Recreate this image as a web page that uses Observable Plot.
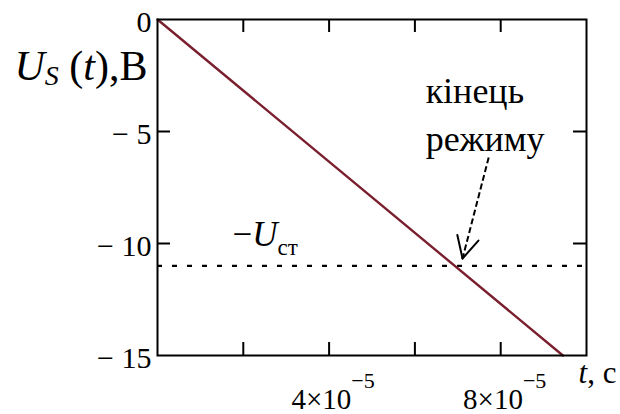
<!DOCTYPE html>
<html><head><meta charset="utf-8">
<script src="https://cdn.jsdelivr.net/npm/d3@7"></script>
<script src="https://cdn.jsdelivr.net/npm/@observablehq/plot@0.6"></script>
<style>
body{margin:0;background:#fff;overflow:hidden}
</style>
</head><body><div id="chart"></div>
<script>
// ---- data ----
const lineT = [0, 9.45e-5];
const lineU = [0, -15];
const uStop = -11;
const xDomain = [0, 1e-4];
const yDomain = [-15, 0];
const xTickValues = [2e-5, 4e-5, 6e-5, 8e-5];
const xTickLabelValues = [4e-5, 8e-5];
const xTickMantissa = ["4", "8"];
const xTickExponent = ["−5", "−5"];
const yTickValues = [0, -5, -10, -15];
const yTickLabels = ["0", "− 5", "− 10", "− 15"];
const yInnerTicks = [-5, -10];
const arrowFrom = [7.72e-5, -6.16];
const arrowTo = [7.11e-5, -10.67];
const noteText = "кінець\nрежиму";
const notePos = [6.25e-5, -5.85];
const stopLabelPos = [1.75e-5, -10.09];
const yLabel = "U_S (t),B";
const xLabel = "t, c";
const stopLabel = "−U_ст";

const FONT = "Liberation Serif";
const lineData = lineT.map((t, i) => ({t, u: lineU[i]}));

const W = 620, H = 414, mL = 157, mT = 19, mR = 34, mB = 59;
const fw = W - mL - mR, fh = H - mT - mB, tl = 13;

// arrow-head wings, computed in pixel space then mapped back to data space
const sx = d3.scaleLinear(xDomain, [mL, W - mR]);
const sy = d3.scaleLinear(yDomain, [H - mB, mT]);
const tipPx = [sx(arrowTo[0]), sy(arrowTo[1])];
const fromPx = [sx(arrowFrom[0]), sy(arrowFrom[1])];
const back = Math.atan2(fromPx[1] - tipPx[1], fromPx[0] - tipPx[0]);
const headLen = 24, half = 27 * Math.PI / 180;
const wings = [back - half, back + half].map(a => ({
  x1: arrowTo[0], y1: arrowTo[1],
  x2: sx.invert(tipPx[0] + headLen * Math.cos(a)),
  y2: sy.invert(tipPx[1] + headLen * Math.sin(a))
}));

const svg = Plot.plot({
  width: W, height: H,
  marginLeft: mL, marginTop: mT, marginRight: mR, marginBottom: mB,
  style: {fontFamily: FONT, fontSize: "30px", background: "#fff", color: "#000", overflow: "visible"},
  x: {domain: xDomain, axis: null},
  y: {domain: yDomain, axis: null},
  marks: [
    Plot.ruleY([uStop], {x1: xDomain[0], x2: xDomain[1], stroke: "#000", strokeWidth: 2.2, strokeDasharray: "5,10"}),
    Plot.line(lineData, {x: "t", y: "u", stroke: "#7a1f2e", strokeWidth: 2.4}),
    Plot.frame({stroke: "#000", strokeWidth: 2}),
    Plot.tickX(xTickValues, {x: d => d, insetTop: fh - tl, stroke: "#000", strokeWidth: 2}),
    Plot.tickX(xTickValues, {x: d => d, insetBottom: fh - tl, stroke: "#000", strokeWidth: 2}),
    Plot.tickY(yInnerTicks, {y: d => d, insetRight: fw - tl, stroke: "#000", strokeWidth: 2}),
    Plot.tickY(yInnerTicks, {y: d => d, insetLeft: fw - tl, stroke: "#000", strokeWidth: 2}),
    Plot.text(yTickValues, {y: d => d, text: (d, i) => yTickLabels[i], frameAnchor: "left", textAnchor: "end", dx: -6, dy: 3, fontSize: 30, fontFamily: FONT, fill: "#000"}),
    Plot.text(xTickLabelValues, {x: d => d, text: (d, i) => `${xTickMantissa[i]}×10^${xTickExponent[i]}`, frameAnchor: "bottom", lineAnchor: "bottom", dx: 4, dy: 53, fontSize: 29, fontFamily: FONT, fill: "#000"}),
    Plot.text([0], {frameAnchor: "top-left", text: () => yLabel, textAnchor: "start", lineAnchor: "bottom", dx: 14 - mL, dy: 79 - mT, fontSize: 42, fontFamily: FONT, fill: "#000"}),
    Plot.text([0], {frameAnchor: "bottom-right", text: () => xLabel, textAnchor: "start", lineAnchor: "bottom", dx: -8, dy: 27, fontSize: 31, fontFamily: FONT, fill: "#000"}),
    Plot.text([stopLabelPos], {x: d => d[0], y: d => d[1], text: () => stopLabel, textAnchor: "start", lineAnchor: "bottom", fontSize: 35, fontFamily: FONT, fill: "#000"}),
    Plot.text([notePos], {x: d => d[0], y: d => d[1], text: () => noteText, textAnchor: "start", lineAnchor: "bottom", lineHeight: 1.33, fontSize: 36, fontFamily: FONT, fill: "#000"}),
    Plot.link([0], {x1: () => arrowFrom[0], y1: () => arrowFrom[1], x2: () => arrowTo[0], y2: () => arrowTo[1], stroke: "#000", strokeWidth: 2, strokeDasharray: "6,3"}),
    Plot.link(wings, {x1: "x1", y1: "y1", x2: "x2", y2: "y2", stroke: "#000", strokeWidth: 2, strokeLinecap: "round"})
  ]
});

function rich(el, parts) {
  el.textContent = "";
  for (const p of parts) {
    const ts = document.createElementNS("http://www.w3.org/2000/svg", "tspan");
    ts.textContent = p.t;
    if (p.i) ts.setAttribute("font-style", "italic");
    if (p.s) ts.setAttribute("font-size", p.s);
    if (p.dy) ts.setAttribute("dy", p.dy);
    el.appendChild(ts);
  }
}
svg.querySelectorAll("text").forEach(el => {
  const s = el.textContent;
  if (s === yLabel) {
    rich(el, [{t: "U", i: 1}, {t: "S", i: 1, s: 28, dy: 5}, {t: " (", dy: -5}, {t: "t", i: 1}, {t: "),B"}]);
  } else if (s === xLabel) {
    rich(el, [{t: "t", i: 1}, {t: ", c"}]);
  } else if (s === stopLabel) {
    rich(el, [{t: "−"}, {t: "U", i: 1}, {t: "ст", s: 23, dy: 9}]);
  } else if (s.includes("×10^")) {
    const [m, e] = s.split("^");
    rich(el, [{t: m}, {t: e, s: 22, dy: -21}]);
  }
});
svg.querySelectorAll("g, text, tspan").forEach(el => {
  el.setAttribute("font-family", FONT);
  el.style.setProperty("font-family", `"${FONT}", serif`, "important");
});
svg.style.setProperty("font-family", `"${FONT}", serif`, "important");
document.getElementById("chart").appendChild(svg);
</script>
</body></html>
